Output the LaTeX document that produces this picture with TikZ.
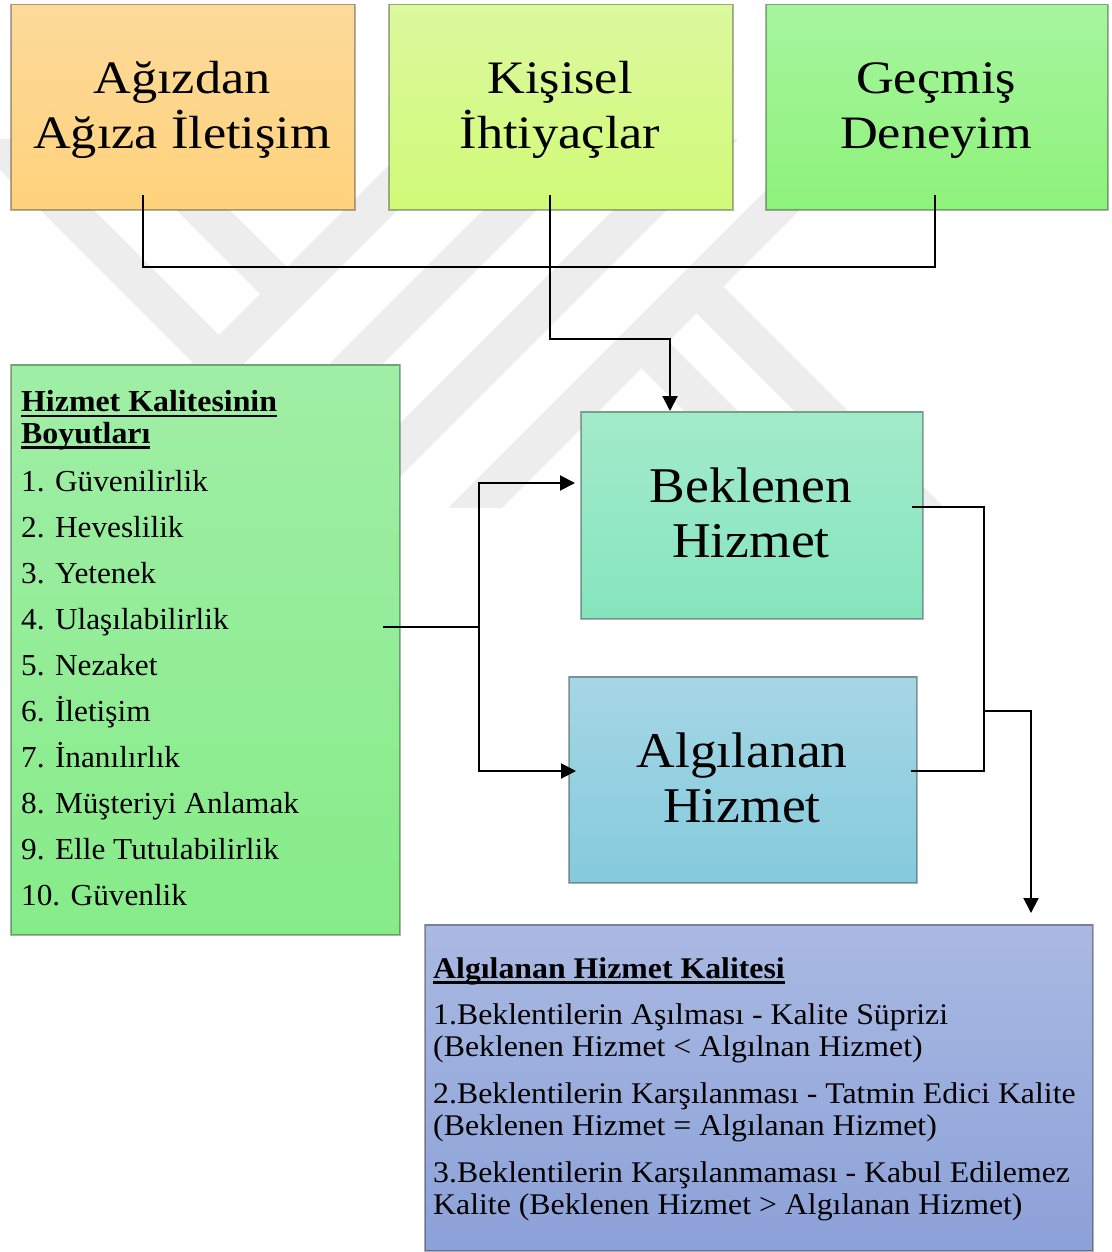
\documentclass[tikz,border=0pt]{standalone}
\usepackage{fontspec}
\setmainfont{Liberation Serif}
\usepackage{graphicx}
\usetikzlibrary{arrows.meta}

% box fills (top / bottom of each gradient)
\definecolor{wsTop}{HTML}{FDDA9B}\definecolor{wsBot}{HTML}{FFD27C}
\definecolor{kiTop}{HTML}{DBF99E}\definecolor{kiBot}{HTML}{D1FA78}
\definecolor{geTop}{HTML}{A6F59E}\definecolor{geBot}{HTML}{8EF27A}
\definecolor{dmTop}{HTML}{A0EEA6}\definecolor{dmBot}{HTML}{86EC88}
\definecolor{exTop}{HTML}{A3EACB}\definecolor{exBot}{HTML}{85E5BE}
\definecolor{peTop}{HTML}{A6D6E5}\definecolor{peBot}{HTML}{84CBDD}
\definecolor{pqTop}{HTML}{A9B9E2}\definecolor{pqBot}{HTML}{8CA1D8}
\definecolor{wmGrey}{RGB}{237,237,237}

% underline bar placed below the baseline
\newcommand\ulbar[1]{\setbox0\hbox{#1}\rlap{\rule[-5.5pt]{\wd0}{2.4pt}}\box0}

\begin{document}
\begin{tikzpicture}[x=1pt,y=-1pt,
  box/.style={draw=black,draw opacity=0.3,line width=1.5pt,anchor=north west,inner sep=0pt},
  label/.style={inner sep=0pt},
  conn/.style={line width=2pt,draw=black},
  arr/.style={conn,-{Triangle[length=15pt,width=15pt]}},
  wm/.style={line width=38pt,draw=wmGrey},
  bigtxt/.style={label,anchor=base,font=\fontsize{46.5pt}{54.5pt}\selectfont},
  midtxt/.style={label,anchor=base,font=\fontsize{50pt}{55.5pt}\selectfont},
]
\useasboundingbox (0,0) rectangle (1111,1252);

% background emblem
\begin{scope}
  \clip (0,140) rectangle (1111,507);
  \draw[wm] (61,520) -- (461,120);
  \draw[wm] (200,520) -- (600,120);
  \draw[wm] (330,520) -- (730,120);
  \draw[wm] (463,520) -- (863,120);
  \draw[wm] (-40,103) -- (230,373);
  \draw[wm] (100,107) -- (287,294);
  \draw[wm] (696.5,286.5) -- (940,530);
  \draw[wm] (641.5,341.5) -- (830,530);
\end{scope}

% boxes
\node[box,minimum width=344pt,minimum height=205pt,top color=wsTop,bottom color=wsBot] (ws) at (10,4) {};
\node[box,minimum width=344pt,minimum height=205pt,top color=kiTop,bottom color=kiBot] (ki) at (388,4) {};
\node[box,minimum width=342pt,minimum height=205pt,top color=geTop,bottom color=geBot] (ge) at (765,4) {};
\node[box,minimum width=389pt,minimum height=570pt,top color=dmTop,bottom color=dmBot] (dim) at (10,364) {};
\node[box,minimum width=342pt,minimum height=207pt,top color=exTop,bottom color=exBot] (ex) at (580,411) {};
\node[box,minimum width=348pt,minimum height=206pt,top color=peTop,bottom color=peBot] (pe) at (568,676) {};
\node[box,minimum width=668pt,minimum height=326pt,top color=pqTop,bottom color=pqBot] (pq) at (424,924) {};

% box texts
\node[bigtxt] (wsT) at (182,94) {\scalebox{1.125}[1]{\begin{tabular}[t]{@{}c@{}}Ağızdan\\Ağıza İletişim\end{tabular}}};
\node[bigtxt] (kiT) at (560,94) {\scalebox{1.125}[1]{\begin{tabular}[t]{@{}c@{}}Kişisel\\İhtiyaçlar\end{tabular}}};
\node[bigtxt] (geT) at (936,94) {\scalebox{1.125}[1]{\begin{tabular}[t]{@{}c@{}}Geçmiş\\Deneyim\end{tabular}}};
\node[midtxt] (exT) at (751,502) {\scalebox{1.07}[1]{\begin{tabular}[t]{@{}c@{}}Beklenen\\Hizmet\end{tabular}}};
\node[midtxt] (peT) at (742,767) {\scalebox{1.07}[1]{\begin{tabular}[t]{@{}c@{}}Algılanan\\Hizmet\end{tabular}}};

\node[label,anchor=base west,font=\fontsize{30.5pt}{31.6pt}\selectfont\bfseries] (dimH) at (21,411.7)
  {\scalebox{1.045}[1]{\begin{tabular}[t]{@{}l@{}}\ulbar{Hizmet Kalitesinin}\\\ulbar{Boyutları}\end{tabular}}};
\node[label,anchor=base west,font=\fontsize{30.5pt}{46pt}\selectfont] (dimL) at (21,491.7)
  {\scalebox{1.025}[1]{\begin{tabular}[t]{@{}l@{}}1. Güvenilirlik\\2. Heveslilik\\3. Yetenek\\4. Ulaşılabilirlik\\5. Nezaket\\6. İletişim\\7. İnanılırlık\\8. Müşteriyi Anlamak\\9. Elle Tutulabilirlik\\10. Güvenlik\end{tabular}}};

\node[label,anchor=base west,font=\fontsize{30pt}{32.5pt}\selectfont\bfseries] (pqH) at (433,978)
  {\scalebox{1.06}[1]{\ulbar{Algılanan Hizmet Kalitesi}}};
\node[label,anchor=base west,font=\fontsize{30pt}{32.5pt}\selectfont] (pqL) at (433,1024)
  {\scalebox{1.06}[1]{\begin{tabular}[t]{@{}l@{}}
   1.Beklentilerin Aşılması - Kalite Süprizi\\
   (Beklenen Hizmet < Algılnan Hizmet)\\[14pt]
   2.Beklentilerin Karşılanması - Tatmin Edici Kalite\\
   (Beklenen Hizmet = Algılanan Hizmet)\\[14pt]
   3.Beklentilerin Karşılanmaması - Kabul Edilemez\\
   Kalite (Beklenen Hizmet > Algılanan Hizmet)
  \end{tabular}}};

% connector end points
\coordinate (wsO) at (143,195);
\coordinate (kiO) at (550,195);
\coordinate (geO) at (935,195);
\coordinate (exN) at (670,411);
\coordinate (dimO) at (383,627);
\coordinate (split) at (479,627);
\coordinate (exW) at (575,483);
\coordinate (peW) at (576,771);
\coordinate (exE) at (912,507);
\coordinate (peE) at (911,771);
\coordinate (join) at (984,711);
\coordinate (pqN) at (1031,913);

% connectors
\draw[conn] (wsO) -- ++(0,72) -| (geO);
\draw[arr] (kiO) -- ++(0,144) -| (exN);
\draw[conn] (dimO) -- (split);
\draw[arr] (split) |- (exW);
\draw[arr] (split) |- (peW);
\draw[conn] (exE) -| (join) |- (peE);
\draw[arr] (join) -| (pqN);
\end{tikzpicture}
\end{document}
